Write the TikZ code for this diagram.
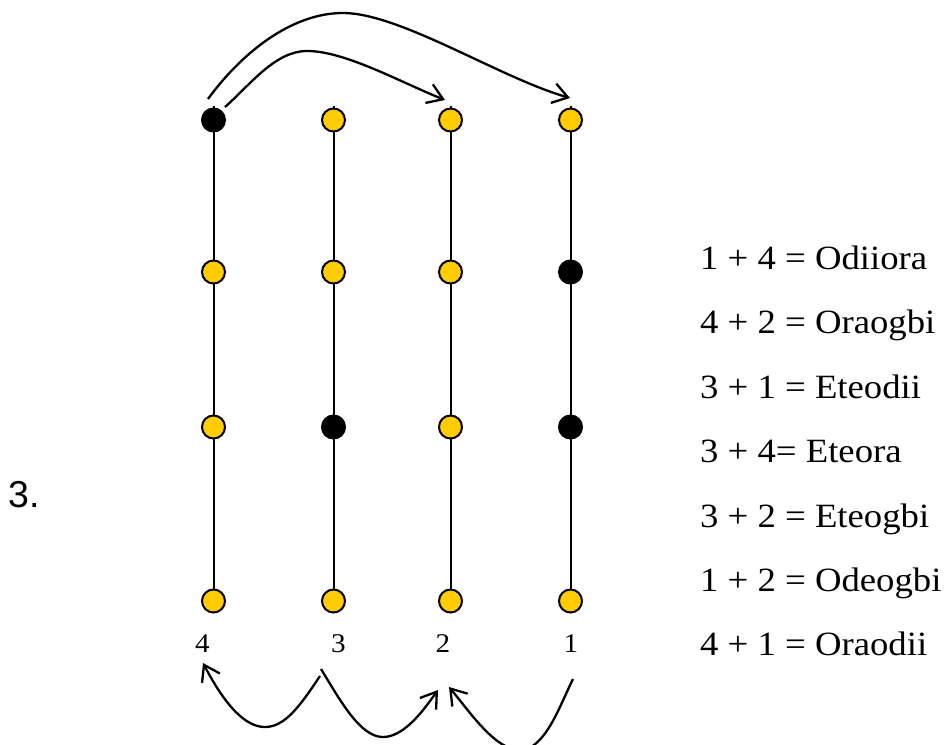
\documentclass[tikz,border=0pt]{standalone}
\usepackage{fontspec}
\setmainfont{Liberation Serif}
\newfontfamily\rtfont{Liberation Serif}[FakeStretch=1.08]
\newfontfamily\numfont{Liberation Sans}
\usetikzlibrary{arrows.meta,backgrounds}
\definecolor{beadyellow}{RGB}{255,204,0}
\begin{document}
\begin{tikzpicture}[x=1pt,y=-1pt,
  bead/.style={circle,draw=black,line width=2pt,minimum size=23pt,inner sep=0pt},
  ybead/.style={bead,fill=beadyellow},
  bbead/.style={bead,fill=black},
  string/.style={line width=2pt},
  move/.style={line width=2.3pt,-{Straight Barb[length=15pt,width=20pt]}},
  eqtext/.style={anchor=base west,inner sep=0pt,font=\rtfont\fontsize{34}{40}\selectfont},
  collabel/.style={anchor=base,inner sep=0pt,font=\rtfont\fontsize{27}{32}\selectfont}]
\useasboundingbox (0,0) rectangle (950,744);

% beads: n<column><row>
\node[bbead] (n41) at (213.5,120) {};
\node[ybead] (n31) at (333.5,120) {};
\node[ybead] (n21) at (450.5,120) {};
\node[ybead] (n11) at (570.5,120) {};

\node[ybead] (n42) at (213.5,272) {};
\node[ybead] (n32) at (333.5,272) {};
\node[ybead] (n22) at (450.5,272) {};
\node[bbead] (n12) at (570.5,272) {};

\node[ybead] (n43) at (213.5,427) {};
\node[bbead] (n33) at (333.5,427) {};
\node[ybead] (n23) at (450.5,427) {};
\node[bbead] (n13) at (570.5,427) {};

\node[ybead] (n44) at (213.5,601) {};
\node[ybead] (n34) at (333.5,601) {};
\node[ybead] (n24) at (450.5,601) {};
\node[ybead] (n14) at (570.5,601) {};

\begin{scope}[on background layer]
  \foreach \c in {4,3,2,1}
    \draw[string] ([yshift=2pt]n\c1.north) -- (n\c4.center);
\end{scope}

% column labels
\node[collabel] (l4) at (202.5,652) {4};
\node[collabel] (l3) at (338.5,652) {3};
\node[collabel] (l2) at (443,652) {2};
\node[collabel] (l1) at (571,652) {1};

% item number
\node[anchor=base west,inner sep=0pt,font=\numfont\fontsize{37.5}{42}\selectfont] (num) at (8,507) {3.};

% equations
\node[eqtext] (e1) at (700,269) {1 + 4 = Odiiora};
\node[eqtext] (e2) at (700,333.5) {4 + 2 = Oraogbi};
\node[eqtext] (e3) at (700,398) {3 + 1 = Eteodii};
\node[eqtext] (e4) at (700,462) {3 + 4= Eteora};
\node[eqtext] (e5) at (700,527) {3 + 2 = Eteogbi};
\node[eqtext] (e6) at (700,591) {1 + 2 = Odeogbi};
\node[eqtext] (e7) at (700,655) {4 + 1 = Oraodii};

% top moves
\coordinate (o1) at (208,99);
\coordinate (o2) at (570,98);
\coordinate (i1) at (225,107);
\coordinate (i2) at (445,100);
\draw[move] (o1) .. controls (240,55) and (290,13) .. (343,13)
                 .. controls (400,13) and (500,78) .. (o2);
\draw[move] (i1) .. controls (250,85) and (275,51) .. (307,51)
                 .. controls (345,51) and (400,82) .. (i2);

% bottom moves
\coordinate (a1) at (320,676);
\coordinate (a2) at (203,663);
\coordinate (b1) at (321,669);
\coordinate (b2) at (438,690);
\coordinate (c1) at (573,679);
\coordinate (c2) at (449,687);
\draw[move] (a1) .. controls (300,706) and (285,727) .. (265,727)
                 .. controls (245,727) and (225,705) .. (a2);
\draw[move] (b1) .. controls (340,700) and (360,737) .. (383,737)
                 .. controls (405,737) and (425,708) .. (b2);
\draw[move] (c1) .. controls (560,705) and (545,750) .. (520,750)
                 .. controls (495,750) and (470,712) .. (c2);
\end{tikzpicture}
\end{document}
